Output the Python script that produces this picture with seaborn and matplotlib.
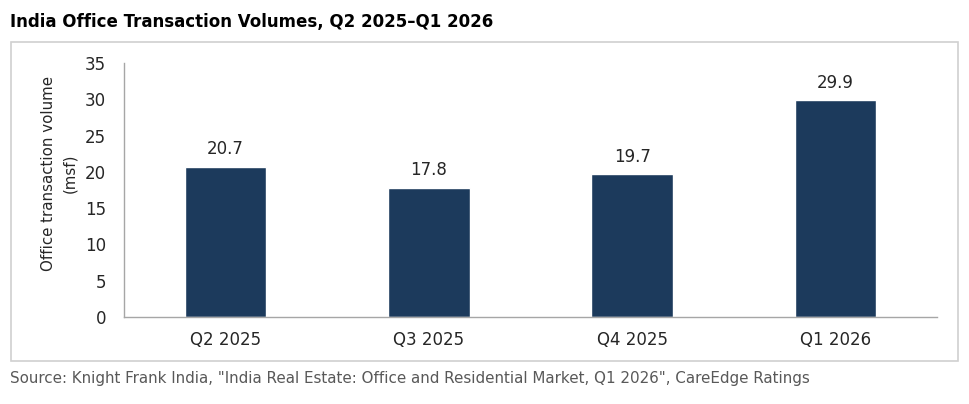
import matplotlib
matplotlib.use("Agg")
import matplotlib.pyplot as plt
import seaborn as sns
import pandas as pd
from matplotlib.patches import Rectangle

quarters = ["Q2 2025", "Q3 2025", "Q4 2025", "Q1 2026"]
volumes = [20.7, 17.8, 19.7, 29.9]

title = "India Office Transaction Volumes, Q2 2025\u2013Q1 2026"
source = 'Source: Knight Frank India, "India Real Estate: Office and Residential Market, Q1 2026", CareEdge Ratings'

sns.set_theme(style="white")
plt.rcParams["font.family"] = ["DejaVu Sans"]

df = pd.DataFrame({"quarter": quarters, "volume": volumes})

fig = plt.figure(figsize=(9.69, 4.04), dpi=100)
ax = fig.add_axes([124 / 969, 1 - 317 / 404, (937 - 124) / 969, (317 - 63) / 404])

sns.barplot(data=df, x="quarter", y="volume", color="#1c3a5c", width=0.4,
            saturation=1, ax=ax)

ax.set_ylim(0, 35)
ax.set_yticks(range(0, 36, 5))
ax.set_xlim(-0.5, 3.5)
ax.set_xlabel("")
ax.set_ylabel("Office transaction volume\n(msf)", fontsize=10.8, color="#262626",
              linespacing=1.45)
ax.yaxis.set_label_coords(-0.058, 0.565)

ax.tick_params(axis="y", length=0, pad=13, labelsize=12, labelcolor="#262626")
ax.tick_params(axis="x", length=0, pad=10, labelsize=12, labelcolor="#262626")

for side in ["top", "right"]:
    ax.spines[side].set_visible(False)
for side in ["left", "bottom"]:
    ax.spines[side].set_color("#a6a6a6")
    ax.spines[side].set_linewidth(1.0)

ax.bar_label(ax.containers[0], labels=[f"{v:.1f}" for v in volumes],
             padding=6, fontsize=12, color="#262626")

# outer chart box
fig.patches.append(Rectangle((11 / 969, 1 - 361 / 404), (958 - 11) / 969,
                             (361 - 42) / 404, transform=fig.transFigure,
                             fill=False, edgecolor="#d0d0d0", linewidth=1.2))

fig.text(10 / 969, 1 - 22 / 404, title, fontsize=12, fontweight="bold",
         color="#000000", va="center", ha="left")
fig.text(10 / 969, 1 - 379 / 404, source, fontsize=10.9, color="#595959",
         va="center", ha="left")

fig.savefig("out.png", dpi=100)
